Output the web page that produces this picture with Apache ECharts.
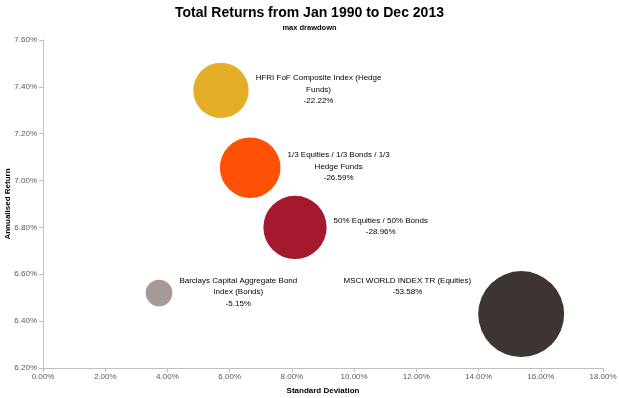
<!DOCTYPE html>
<html><head><meta charset="utf-8">
<script src="https://cdn.jsdelivr.net/npm/echarts@6/dist/echarts.min.js"></script>
<style>html,body{margin:0;padding:0;background:#fff}#c{width:619px;height:398px}</style>
</head><body><div id="c"></div>
<script>
const names = [
  'HFRI FoF Composite Index (Hedge\nFunds)',
  '1/3 Equities / 1/3 Bonds / 1/3\nHedge Funds',
  '50% Equities / 50% Bonds',
  'Barclays Capital Aggregate Bond\nIndex (Bonds)',
  'MSCI WORLD INDEX TR (Equities)'
];
const stdDev = [5.72, 6.66, 8.10, 3.73, 15.37];
const annReturn = [7.385, 7.055, 6.80, 6.52, 6.43];
const maxDrawdown = [-22.22, -26.59, -28.96, -5.15, -53.58];
const colors = ['#E5AE28', '#FE5106', '#A31A2F', '#A59B96', '#3C3531'];
const xTicks = {min: 0, max: 18, interval: 2};
const yTicks = {min: 6.2, max: 7.6, interval: 0.2};

const FONT = '"Liberation Sans",sans-serif';
const maxAbs = Math.max(...maxDrawdown.map(Math.abs));
const series = names.map((n, i) => {
  const isLeft = i === 4;
  return {
    type: 'scatter',
    name: n,
    data: [[stdDev[i], annReturn[i], maxDrawdown[i]]],
    symbolSize: v => 86 * Math.sqrt(Math.abs(v[2]) / maxAbs),
    itemStyle: {color: colors[i], opacity: 1},
    label: {
      show: true,
      position: isLeft ? 'left' : 'right',
      distance: 7,
      offset: isLeft ? [0, -28] : [0, -1],
      formatter: () => (n + '\n' + maxDrawdown[i].toFixed(2) + '%').split('\n').map(s => '{c|' + s + '}').join('\n'),
      rich: {c: {align: 'center', fontSize: 8, lineHeight: 11.5, color: '#000', fontFamily: FONT}}
    },
    emphasis: {disabled: true}
  };
});

const chart = echarts.init(document.getElementById('c'));
chart.setOption({
  animation: false,
  textStyle: {fontFamily: FONT},
  title: {
    text: 'Total Returns from Jan 1990 to Dec 2013',
    subtext: 'max drawdown',
    left: 'center', top: 1, itemGap: 4,
    textStyle: {fontSize: 14, fontWeight: 'bold', color: '#000', fontFamily: FONT},
    subtextStyle: {fontSize: 7.5, fontWeight: 'bold', color: '#000'}
  },
  grid: {left: 43, right: 16, top: 40, bottom: 30, outerBoundsMode: 'none'},
  xAxis: {
    type: 'value', min: xTicks.min, max: xTicks.max, interval: xTicks.interval,
    name: 'Standard Deviation', nameLocation: 'middle', nameGap: 19, nameMoveOverlap: false,
    nameTextStyle: {fontSize: 8, fontWeight: 'bold', color: '#000'},
    axisLine: {show: true, lineStyle: {color: '#BFBFBF'}},
    axisTick: {show: true, length: 4, lineStyle: {color: '#BFBFBF'}},
    axisLabel: {fontSize: 8, color: '#595959', margin: 5, formatter: v => v.toFixed(2) + '%'},
    splitLine: {show: false}
  },
  yAxis: {
    type: 'value', min: yTicks.min, max: yTicks.max, interval: yTicks.interval,
    name: 'Annualised Return', nameLocation: 'middle', nameGap: 35, nameRotate: 90, nameMoveOverlap: false,
    nameTextStyle: {fontSize: 8, fontWeight: 'bold', color: '#000', verticalAlign: 'middle'},
    axisLine: {show: true, lineStyle: {color: '#BFBFBF'}},
    axisTick: {show: true, length: 4, lineStyle: {color: '#BFBFBF'}},
    axisLabel: {fontSize: 8, color: '#595959', margin: 6, formatter: v => v.toFixed(2) + '%'},
    splitLine: {show: false}
  },
  series: series
});
</script></body></html>
